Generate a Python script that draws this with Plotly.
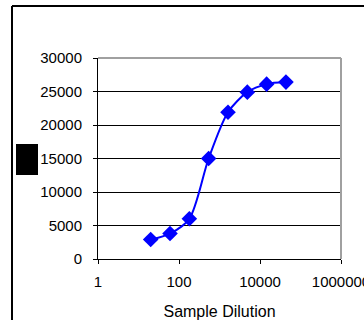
import plotly.graph_objects as go

dilution = [20, 60, 180, 540, 1620, 4860, 14580, 43740]
signal = [2900, 3800, 6000, 15000, 21900, 24900, 26100, 26400]
x_tick_vals = [1, 100, 10000, 1000000]
x_tick_text = ["1", "100", "10000", "1000000"]
y_tick_vals = [0, 5000, 10000, 15000, 20000, 25000, 30000]
y_tick_text = ["0", "5000", "10000", "15000", "20000", "25000", "30000"]
x_title = "Sample Dilution"

W, H = 364, 320
L, R, T, B = 98, 23, 58, 61
pw, ph = W - L - R, H - T - B

def px(xp):
    return (xp - L) / pw

def py(yp):
    return (H - B - yp) / ph

fig = go.Figure()
fig.add_trace(go.Scatter(
    x=dilution, y=signal, mode="lines+markers",
    line=dict(color="#0000FF", width=2, shape="spline", smoothing=0.8),
    marker=dict(symbol="diamond", size=12, color="#0000FF"),
    showlegend=False, cliponaxis=False,
))

family = "Liberation Sans, Arial, sans-serif"
tick_font = dict(family=family, size=15, color="black")
title_font = dict(family=family, size=16, color="black")
fig.update_layout(
    width=W, height=H,
    margin=dict(l=L, r=R, t=T, b=B, pad=0, autoexpand=False),
    paper_bgcolor="white", plot_bgcolor="white",
    font=tick_font,
    xaxis=dict(
        type="log", range=[0, 6], tickvals=x_tick_vals, ticktext=x_tick_text,
        showgrid=False, zeroline=False, showline=True, linecolor="black", linewidth=1,
        ticks="outside", ticklen=4, tickcolor="black", tickfont=tick_font,
        ticklabeloverflow="allow", automargin=False, ticklabelstandoff=5,
        title=dict(text=x_title, font=title_font, standoff=20),
    ),
    yaxis=dict(
        range=[0, 30000], tickvals=y_tick_vals, ticktext=y_tick_text,
        showgrid=True, gridcolor="black", gridwidth=1, zeroline=False,
        showline=True, linecolor="black", linewidth=1,
        ticks="outside", ticklen=4, tickcolor="black", tickfont=tick_font,
        ticklabeloverflow="allow", automargin=False, ticklabelstandoff=8,
    ),
    shapes=[
        dict(type="line", xref="paper", yref="paper", x0=0, x1=1, y0=1, y1=1,
             line=dict(color="#a0a0a0", width=2)),
        dict(type="line", xref="paper", yref="paper", x0=1, x1=1, y0=0, y1=1,
             line=dict(color="#a0a0a0", width=2)),
        dict(type="line", xref="paper", yref="paper", x0=px(12), x1=px(12), y0=py(6), y1=py(330),
             line=dict(color="black", width=2)),
        dict(type="line", xref="paper", yref="paper", x0=px(12), x1=px(380), y0=py(6), y1=py(6),
             line=dict(color="black", width=2)),
        dict(type="rect", xref="paper", yref="paper", x0=px(16), x1=px(38), y0=py(175), y1=py(144),
             fillcolor="black", line=dict(color="black", width=0)),
    ],
)
fig.write_html(
    "out.html",
    config={"displayModeBar": False},
    post_script="document.body.style.margin='0';document.body.style.overflow='hidden';",
)
